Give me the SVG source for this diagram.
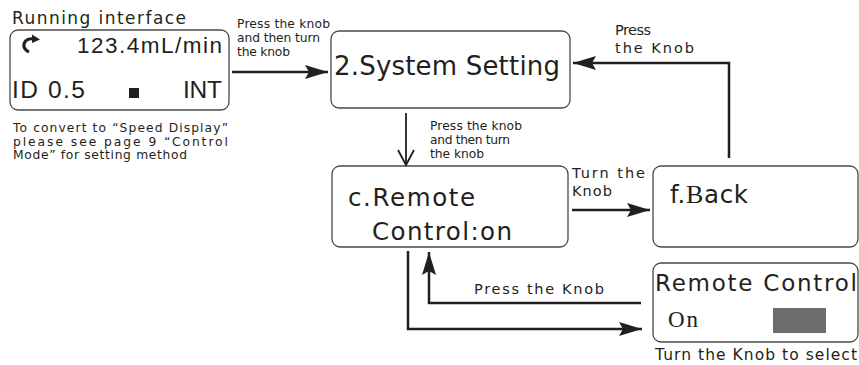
<svg xmlns="http://www.w3.org/2000/svg" width="859" height="365" viewBox="0 0 859 365">
<defs>
<style>
.box{fill:#fff;stroke:#4a4a4a;stroke-width:1.3}
.t{fill:#231f20;font-family:"DejaVu Sans","Liberation Sans",sans-serif}
.a{fill:#231f20;font-family:"Liberation Sans",Arial,sans-serif}
.s{font-family:"Liberation Serif","DejaVu Serif",serif}
.c{fill:none;stroke:#231f20;stroke-width:2.5}
</style>
<marker id="ah" markerWidth="26" markerHeight="16" refX="23" refY="8" orient="auto" markerUnits="userSpaceOnUse">
<path d="M0,1 L23,8 L0,15 L4,8 Z" fill="#231f20"/>
</marker>
</defs>
<rect width="859" height="365" fill="#fff"/>
<g id="running">
<text class="t" x="12" y="24" font-size="17" textLength="174" lengthAdjust="spacing">Running interface</text>
<rect class="box" x="10" y="30" width="219" height="80" rx="8"/>
<path d="M33,39 C26,38 23,43 24,47 C25,50 27,51 29,52" fill="none" stroke="#231f20" stroke-width="3"/>
<path d="M32,34.5 L40,39.5 L32,43 Z" fill="#231f20"/>
<text class="a" x="77" y="53" font-size="22.5" textLength="145" lengthAdjust="spacing">123.4mL/min</text>
<text class="a" x="12" y="98" font-size="24.5" textLength="73" lengthAdjust="spacing">ID 0.5</text>
<rect x="129" y="88" width="10" height="10" fill="#231f20"/>
<text class="a" x="183" y="98" font-size="24.5" textLength="39" lengthAdjust="spacing">INT</text>
<text class="t" x="13" y="132" font-size="12.3" textLength="215" lengthAdjust="spacing">To convert  to “Speed Display”</text>
<text class="t" x="13" y="145.5" font-size="12.3" textLength="215" lengthAdjust="spacing">please  see  page  9  “Control</text>
<text class="t" x="13" y="159" font-size="12.3" textLength="174" lengthAdjust="spacing">Mode” for setting method</text>
</g>
<g id="system">
<rect class="box" x="331" y="31" width="239" height="77" rx="8"/>
<text class="t" x="334" y="75" font-size="26" textLength="226" lengthAdjust="spacing">2.System Setting</text>
</g>
<g id="remote">
<rect class="box" x="332" y="166" width="236" height="81" rx="8"/>
<text class="t" x="348" y="206" font-size="24.5" textLength="127" lengthAdjust="spacing">c.Remote</text>
<text class="t" x="372" y="240" font-size="24.5" textLength="140" lengthAdjust="spacing">Control:on</text>
</g>
<g id="back">
<rect class="box" x="653" y="166" width="205" height="81" rx="8"/>
<text class="t" x="670" y="203" font-size="24.5" textLength="78" lengthAdjust="spacing">f.<tspan class="s" font-size="26">B</tspan>ack</text>
</g>
<g id="rcdialog">
<rect class="box" x="653" y="263" width="205" height="79" rx="8"/>
<text class="t" x="655" y="291" font-size="23" textLength="202" lengthAdjust="spacing">Remote Control</text>
<text class="s" x="668" y="327" font-size="23" fill="#231f20" textLength="30" lengthAdjust="spacing">On</text>
<rect x="773" y="308" width="53" height="25" fill="#6b6e6b"/>
<text class="t" x="655" y="360" font-size="15.5" textLength="202" lengthAdjust="spacing">Turn the Knob to select</text>
</g>
<g id="connectors">
<line class="c" x1="232" y1="72" x2="328" y2="72" marker-end="url(#ah)"/>
<text class="t" x="237" y="28" font-size="12.3" textLength="93" lengthAdjust="spacing">Press the knob</text>
<text class="t" x="237" y="42" font-size="12.3" textLength="83" lengthAdjust="spacing">and then turn</text>
<text class="t" x="237" y="56" font-size="12.3" textLength="53" lengthAdjust="spacing">the knob</text>
<path class="c" d="M729,158 L729,63 L573,63" marker-end="url(#ah)"/>
<text class="t" x="615" y="35" font-size="14.5" textLength="36" lengthAdjust="spacing">Press</text>
<text class="t" x="615" y="53" font-size="14.5" textLength="79" lengthAdjust="spacing">the Knob</text>
<line x1="406" y1="113" x2="406" y2="164" stroke="#231f20" stroke-width="1.8"/>
<path d="M398,150 L406,165 L414,150" fill="none" stroke="#231f20" stroke-width="1.8"/>
<text class="t" x="430" y="130" font-size="12.3" textLength="92" lengthAdjust="spacing">Press the knob</text>
<text class="t" x="430" y="144" font-size="12.3" textLength="80" lengthAdjust="spacing">and then turn</text>
<text class="t" x="430" y="158" font-size="12.3" textLength="54" lengthAdjust="spacing">the knob</text>
<line class="c" x1="572" y1="210" x2="650" y2="210" marker-end="url(#ah)"/>
<text class="t" x="572" y="178" font-size="14.5" textLength="73" lengthAdjust="spacing">Turn the</text>
<text class="t" x="572" y="196" font-size="14.5" textLength="40" lengthAdjust="spacing">Knob</text>
<path class="c" d="M408,251 L408,329 L642,329" marker-end="url(#ah)"/>
<path class="c" d="M641,303 L429,303 L429,252" marker-end="url(#ah)"/>
<text class="t" x="474" y="294" font-size="14.5" textLength="130" lengthAdjust="spacing">Press the Knob</text>
</g>
</svg>
